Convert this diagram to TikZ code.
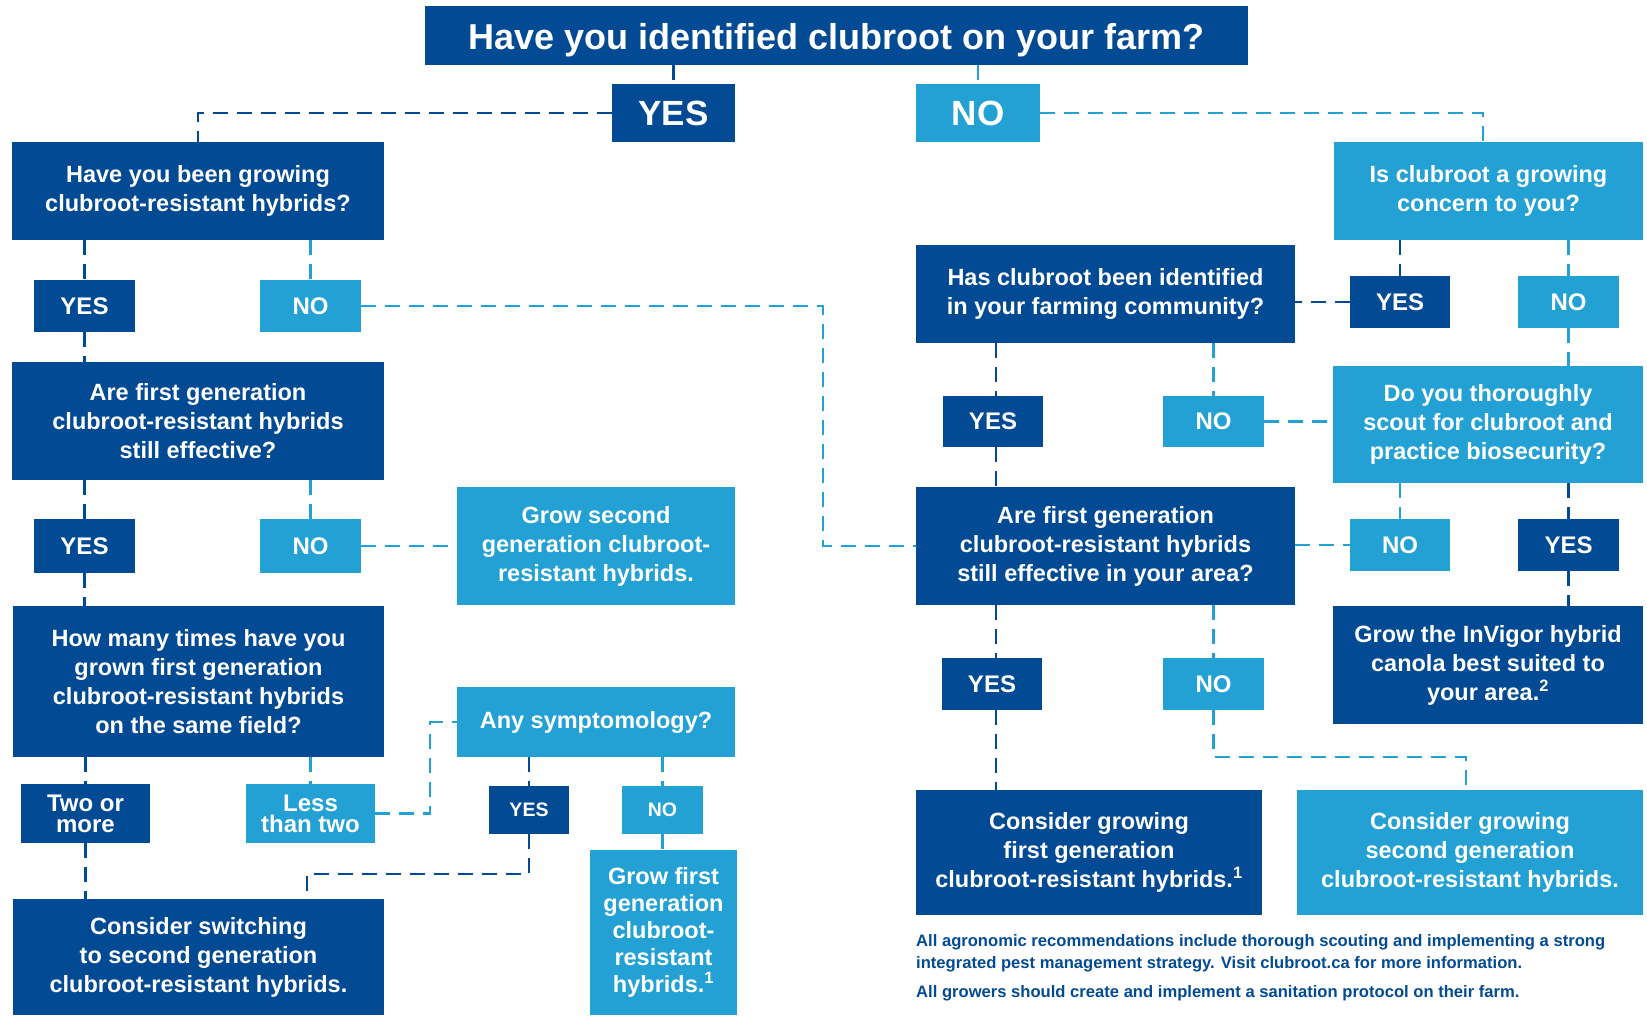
\documentclass[tikz,border=0pt]{standalone}
\usepackage{fontspec}
\setmainfont{Liberation Sans}
\definecolor{dk}{RGB}{3,74,148}
\definecolor{lt}{RGB}{35,161,212}
\tikzset{
 box/.style={inner sep=0pt, outer sep=0pt, text=white, align=center, font=\bfseries\fontsize{23.5}{29}\selectfont},
 dbox/.style={box, fill=dk},
 lbox/.style={box, fill=lt},
 lab/.style={font=\bfseries\fontsize{24}{24}\selectfont},
 biglab/.style={font=\bfseries\fontsize{35}{35}\selectfont},
 smalllab/.style={font=\bfseries\fontsize{19.5}{19.5}\selectfont},
 tight/.style={font=\bfseries\fontsize{24}{21}\selectfont},
 conn/.style={line width=2.8pt, dash pattern=on 15pt off 9pt},
 dl/.style={conn, draw=dk},
 ll/.style={conn, draw=lt},
 foot/.style={anchor=west, inner sep=0pt, text=dk, font=\bfseries\fontsize{16.6}{21}\selectfont}
}
\begin{document}
\begin{tikzpicture}[x=1pt,y=-1pt]
\useasboundingbox (0,0) rectangle (1647,1015);
% title
\node[dbox, minimum width=823pt, minimum height=59pt, text height=27.5pt, text depth=0pt, font=\bfseries\fontsize{36}{36}\selectfont] (title) at (836.5,35.5) {Have you identified clubroot on your farm?};
\node[dbox, biglab, minimum width=123pt, minimum height=58pt] (yes0) at (673.5,113) {YES};
\node[lbox, biglab, minimum width=124pt, minimum height=58pt] (no0) at (978,113) {NO};
% left column
\node[dbox, minimum width=372pt, minimum height=98pt] (A) at (198,191) {Have you been growing\\clubroot-resistant hybrids?};
\node[dbox, lab, minimum width=101pt, minimum height=52pt] (aY) at (84.5,306) {YES};
\node[lbox, lab, minimum width=101pt, minimum height=52pt] (aN) at (310.5,306) {NO};
\node[dbox, minimum width=372pt, minimum height=118pt] (B) at (198,421) {Are first generation\\clubroot-resistant hybrids\\still effective?};
\node[dbox, lab, minimum width=101pt, minimum height=54pt] (bY) at (84.5,546) {YES};
\node[lbox, lab, minimum width=101pt, minimum height=54pt] (bN) at (310.5,546) {NO};
\node[lbox, minimum width=278pt, minimum height=118pt] (G2) at (596,546) {Grow second\\generation clubroot-\\resistant hybrids.};
\node[dbox, minimum width=371pt, minimum height=151pt] (C) at (198.5,681.5) {How many times have you\\grown first generation\\clubroot-resistant hybrids\\on the same field?};
\node[dbox, tight, minimum width=129pt, minimum height=59pt] (cTwo) at (85.5,813.5) {Two or\\more};
\node[lbox, tight, minimum width=129pt, minimum height=59pt] (cLess) at (310.5,813.5) {Less\\than two};
\node[lbox, minimum width=278pt, minimum height=70pt] (Any) at (596,722) {Any symptomology?};
\node[dbox, smalllab, minimum width=80pt, minimum height=48pt] (anyY) at (529,810) {YES};
\node[lbox, smalllab, minimum width=81pt, minimum height=48pt] (anyN) at (662.5,810) {NO};
\node[lbox, minimum width=147pt, minimum height=165pt, font=\bfseries\fontsize{23.5}{26.8}\selectfont] (G1) at (663.5,932.5) {Grow first\\generation\\clubroot-\\resistant\\hybrids.\textsuperscript{1}};
\node[dbox, minimum width=371pt, minimum height=116pt] (D) at (198.5,957) {Consider switching\\to second generation\\clubroot-resistant hybrids.};
% right column
\node[lbox, minimum width=309pt, minimum height=98pt] (Is) at (1488.5,191) {Is clubroot a growing\\concern to you?};
\node[dbox, lab, minimum width=100pt, minimum height=52pt] (isY) at (1400,302) {YES};
\node[lbox, lab, minimum width=101pt, minimum height=52pt] (isN) at (1568.5,302) {NO};
\node[dbox, minimum width=379pt, minimum height=98pt] (Has) at (1105.5,294) {Has clubroot been identified\\in your farming community?};
\node[dbox, lab, minimum width=100pt, minimum height=51pt] (hasY) at (993,421.5) {YES};
\node[lbox, lab, minimum width=101pt, minimum height=51pt] (hasN) at (1213.5,421.5) {NO};
\node[lbox, minimum width=310pt, minimum height=117pt] (Do) at (1488,424.5) {Do you thoroughly\\scout for clubroot and\\practice biosecurity?};
\node[dbox, minimum width=379pt, minimum height=118pt] (E) at (1105.5,546) {Are first generation\\clubroot-resistant hybrids\\still effective in your area?};
\node[lbox, lab, minimum width=100pt, minimum height=52pt] (doN) at (1400,545) {NO};
\node[dbox, lab, minimum width=101pt, minimum height=52pt] (doY) at (1568.5,545) {YES};
\node[dbox, minimum width=310pt, minimum height=118pt] (Inv) at (1488,665) {Grow the InVigor hybrid\\canola best suited to\\your area.\textsuperscript{2}};
\node[dbox, lab, minimum width=100pt, minimum height=52pt] (eY) at (992,684) {YES};
\node[lbox, lab, minimum width=101pt, minimum height=52pt] (eN) at (1213.5,684) {NO};
\node[dbox, minimum width=346pt, minimum height=125pt] (F) at (1089,852.5) {Consider growing\\first generation\\clubroot-resistant hybrids.\textsuperscript{1}};
\node[lbox, minimum width=346pt, minimum height=125pt] (G) at (1470,852.5) {Consider growing\\second generation\\clubroot-resistant hybrids.};
% footer
\node[foot] (f1) at (916,942) {All agronomic recommendations include thorough scouting and implementing a strong};
\node[foot] (f2) at (916,964) {integrated pest management strategy. Visit clubroot.ca for more information.};
\node[foot] (f3) at (916,993) {All growers should create and implement a sanitation protocol on their farm.};
% bend coordinates
\coordinate (k1) at (823,546);
\coordinate (k2) at (430,722);
\coordinate (k3) at (307,874);
\coordinate (k4) at (1466,757);
\coordinate (k5) at (1483,113);
\coordinate (k6) at (996,0);
% connectors
\draw[dl] (yes0.north |- title.south) -- (yes0.north);
\draw[ll] (no0.north |- title.south) -- (no0.north);
\draw[dl] (yes0.west) -| (A.north);
\draw[ll] (no0.east) -- (k5) -- (k5 |- Is.north);
\draw[dl] (aY.north |- A.south) -- (aY.north);
\draw[ll] (aN.north |- A.south) -- (aN.north);
\draw[ll] (aN.east) -| (k1) -- (E.west);
\draw[dl] (aY.south) -- (aY.south |- B.north);
\draw[dl] (bY.north |- B.south) -- (bY.north);
\draw[ll] (bN.north |- B.south) -- (bN.north);
\draw[ll] (bN.east) -- (G2.west);
\draw[dl] (bY.south) -- (bY.south |- C.north);
\draw[dl] (cTwo.north |- C.south) -- (cTwo.north);
\draw[ll] (cLess.north |- C.south) -- (cLess.north);
\draw[ll] (cLess.east) -| (k2) -- (Any.west);
\draw[dl] (cTwo.south) -- (cTwo.south |- D.north);
\draw[dl] (anyY.north |- Any.south) -- (anyY.north);
\draw[ll] (anyN.north |- Any.south) -- (anyN.north);
\draw[dl] (anyY.south) |- (k3) -- (k3 |- D.north);
\draw[ll] (anyN.south) -- (anyN.south |- G1.north);
\draw[dl] (isY.north |- Is.south) -- (isY.north);
\draw[ll] (isN.north |- Is.south) -- (isN.north);
\draw[dl] (isY.west) -- (isY.west -| Has.east);
\draw[ll] (isN.south) -- (isN.south |- Do.north);
\draw[dl] (k6 |- Has.south) -- (k6 |- hasY.north);
\draw[ll] (hasN.north |- Has.south) -- (hasN.north);
\draw[ll] (hasN.east) -- (hasN.east -| Do.west);
\draw[dl] (k6 |- hasY.south) -- (k6 |- E.north);
\draw[ll] (doN.north |- Do.south) -- (doN.north);
\draw[dl] (doY.north |- Do.south) -- (doY.north);
\draw[ll] (doN.west -| E.east) -- (doN.west);
\draw[dl] (doY.south) -- (doY.south |- Inv.north);
\draw[dl] (k6 |- E.south) -- (k6 |- eY.north);
\draw[ll] (eN.north |- E.south) -- (eN.north);
\draw[dl] (k6 |- eY.south) -- (k6 |- F.north);
\draw[ll] (eN.south) |- (k4) -- (k4 |- G.north);
\end{tikzpicture}
\end{document}
